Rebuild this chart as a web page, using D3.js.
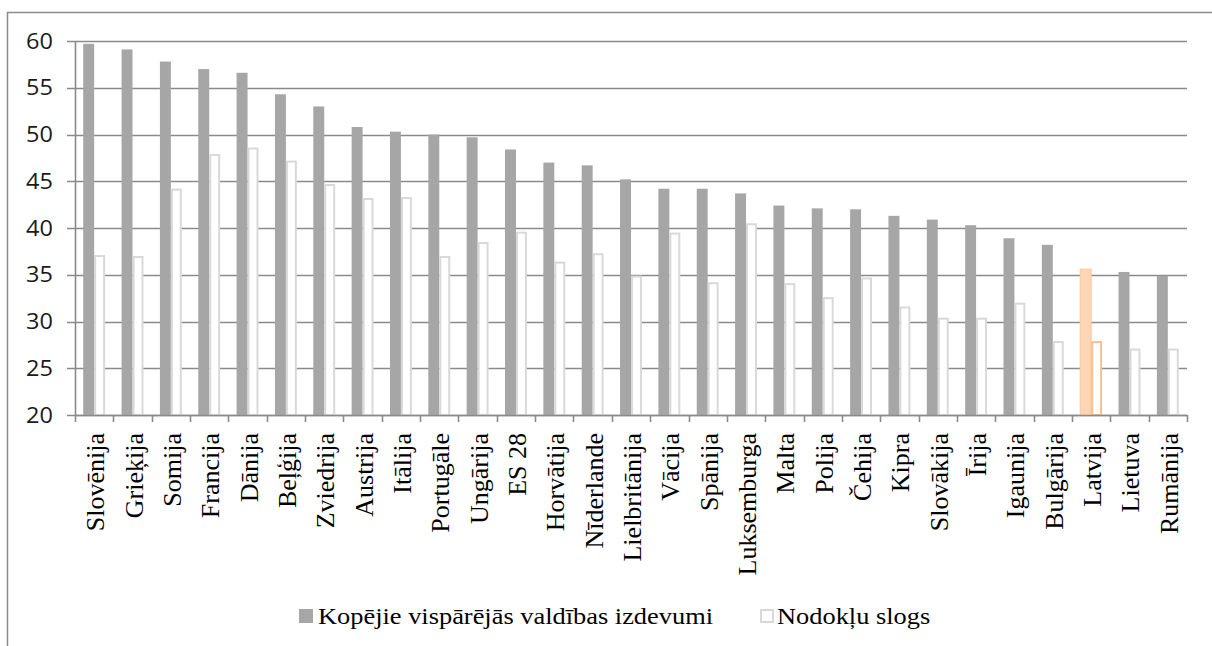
<!DOCTYPE html>
<html>
<head>
<meta charset="utf-8">
<script src="https://cdn.jsdelivr.net/npm/d3@7"></script>
<style>
  html, body { margin: 0; padding: 0; background: #fff; }
  svg { display: block; }
</style>
</head>
<body>
<svg id="chart" width="1212" height="646"></svg>
<script>
const categories = ["Slovēnija","Grieķija","Somija","Francija","Dānija","Beļģija","Zviedrija","Austrija","Itālija","Portugāle","Ungārija","ES 28","Horvātija","Nīderlande","Lielbritānija","Vācija","Spānija","Luksemburga","Malta","Polija","Čehija","Kipra","Slovākija","Īrija","Igaunija","Bulgārija","Latvija","Lietuva","Rumānija"];
const spending = [59.7,59.1,57.8,57.0,56.6,54.3,53.0,50.8,50.3,50.0,49.7,48.4,47.0,46.7,45.2,44.2,44.2,43.7,42.4,42.1,42.0,41.3,40.9,40.3,38.9,38.2,35.6,35.3,34.9];
const taxBurden = [37.0,36.9,44.1,47.8,48.5,47.1,44.6,43.1,43.2,36.9,38.4,39.5,36.3,37.2,34.8,39.4,34.1,40.4,34.0,32.5,34.6,31.5,30.3,30.3,31.9,27.8,27.8,27.0,27.0];
const seriesNames = ["Kopējie vispārējās valdības izdevumi","Nodokļu slogs"];
const yTicks = [20,25,30,35,40,45,50,55,60];
const highlight = "Latvija";

(function () {
const svg = d3.select("#chart");
const pL = 75, pR = 1187, pT = 41, pB = 415;
const serif = "'Liberation Serif', 'Times New Roman', Tinos, serif";

// outer frame (clipped at image edge)
svg.append("path")
  .attr("d", `M7.5,646 L7.5,12.5 L1212,12.5`)
  .attr("fill","none").attr("stroke","#8a8a8a").attr("stroke-width",1.5);

const x = d3.scaleBand().domain(categories).range([pL, pR]).paddingInner(0).paddingOuter(0);
const bw = x.bandwidth();
const xi = d3.scaleBand().domain([0,1]).range([0,bw]).paddingInner(0).paddingOuter(0.75);
const y = d3.scaleLinear().domain([20,60]).range([pB, pT]);

// gridlines
svg.append("g").selectAll("line").data(yTicks).join("line")
  .attr("x1", pL - 8).attr("x2", pR)
  .attr("y1", d => Math.round(y(d)) + 0.5).attr("y2", d => Math.round(y(d)) + 0.5)
  .attr("stroke","#8a8a8a").attr("stroke-width",1.6);

// y labels
svg.append("g").selectAll("text").data(yTicks).join("text")
  .attr("transform", d => `translate(53,${y(d)}) scale(1.12,1)`)
  .attr("text-anchor","end").attr("dy","0.36em")
  .style("font-family","'Open Sans', sans-serif").style("font-size","21px").style("fill","#1a1a1a")
  .text(d => d);

// y axis line
svg.append("line").attr("x1",pL+0.5).attr("x2",pL+0.5).attr("y1",pT).attr("y2",pB)
  .attr("stroke","#8a8a8a").attr("stroke-width",1.6);

// bars
const g = svg.append("g");
categories.forEach((c, i) => {
  const hl = c === highlight;
  g.append("rect")
    .attr("x", x(c) + xi(0)).attr("width", xi.bandwidth())
    .attr("y", y(spending[i])).attr("height", y(20) - y(spending[i]))
    .attr("fill", hl ? "#fcd5b4" : "#a6a6a6")
    .attr("stroke", hl ? "#fbc89f" : "none").attr("stroke-width", 1);
  g.append("rect")
    .attr("x", x(c) + xi(1) + 1).attr("width", xi.bandwidth() - 2)
    .attr("y", y(taxBurden[i])).attr("height", y(20) - y(taxBurden[i]))
    .attr("fill", "#fff")
    .attr("stroke", hl ? "#fabf8f" : "#d9d9d9").attr("stroke-width", 2);
});

// x axis
const xAxis = d3.axisBottom(x).tickSize(0).tickFormat("");
const gx = svg.append("g").attr("transform", `translate(0,${pB})`).call(xAxis);
gx.select(".domain").attr("stroke","#8a8a8a").attr("stroke-width",1.6);
const boundaries = categories.map(c => x(c)).concat([pR]);
svg.append("g").selectAll("line").data(boundaries).join("line")
  .attr("x1", d => Math.round(d)+0.5).attr("x2", d => Math.round(d)+0.5)
  .attr("y1", pB).attr("y2", pB + 7)
  .attr("stroke","#8a8a8a").attr("stroke-width",1.6);

// category labels
svg.append("g").selectAll("text").data(categories).join("text")
  .attr("transform", d => `translate(${x(d) + bw/2 + 10},433) rotate(-90)`)
  .attr("text-anchor","end")
  .style("font-family", serif).style("font-size","26px").style("fill","#000")
  .text(d => d);

// legend
const leg = svg.append("g");
const legItems = [
  {name: seriesNames[0], sx: 299, tx: 318, fill: "#a6a6a6", stroke: "none"},
  {name: seriesNames[1], sx: 760, tx: 777, fill: "#fff", stroke: "#d9d9d9"}
];
legItems.forEach(it => {
  leg.append("rect").attr("x", it.sx + (it.stroke==="none"?0:1)).attr("y", 609 + (it.stroke==="none"?0:1))
    .attr("width", it.stroke==="none"?14:12).attr("height", it.stroke==="none"?14:12)
    .attr("fill", it.fill).attr("stroke", it.stroke).attr("stroke-width", 2);
  leg.append("text")
    .attr("transform", `translate(${it.tx},624) scale(1.1,1)`)
    .style("font-family", serif).style("font-size","24px").style("fill","#000")
    .text(it.name);
});
})();
</script>
</body>
</html>
